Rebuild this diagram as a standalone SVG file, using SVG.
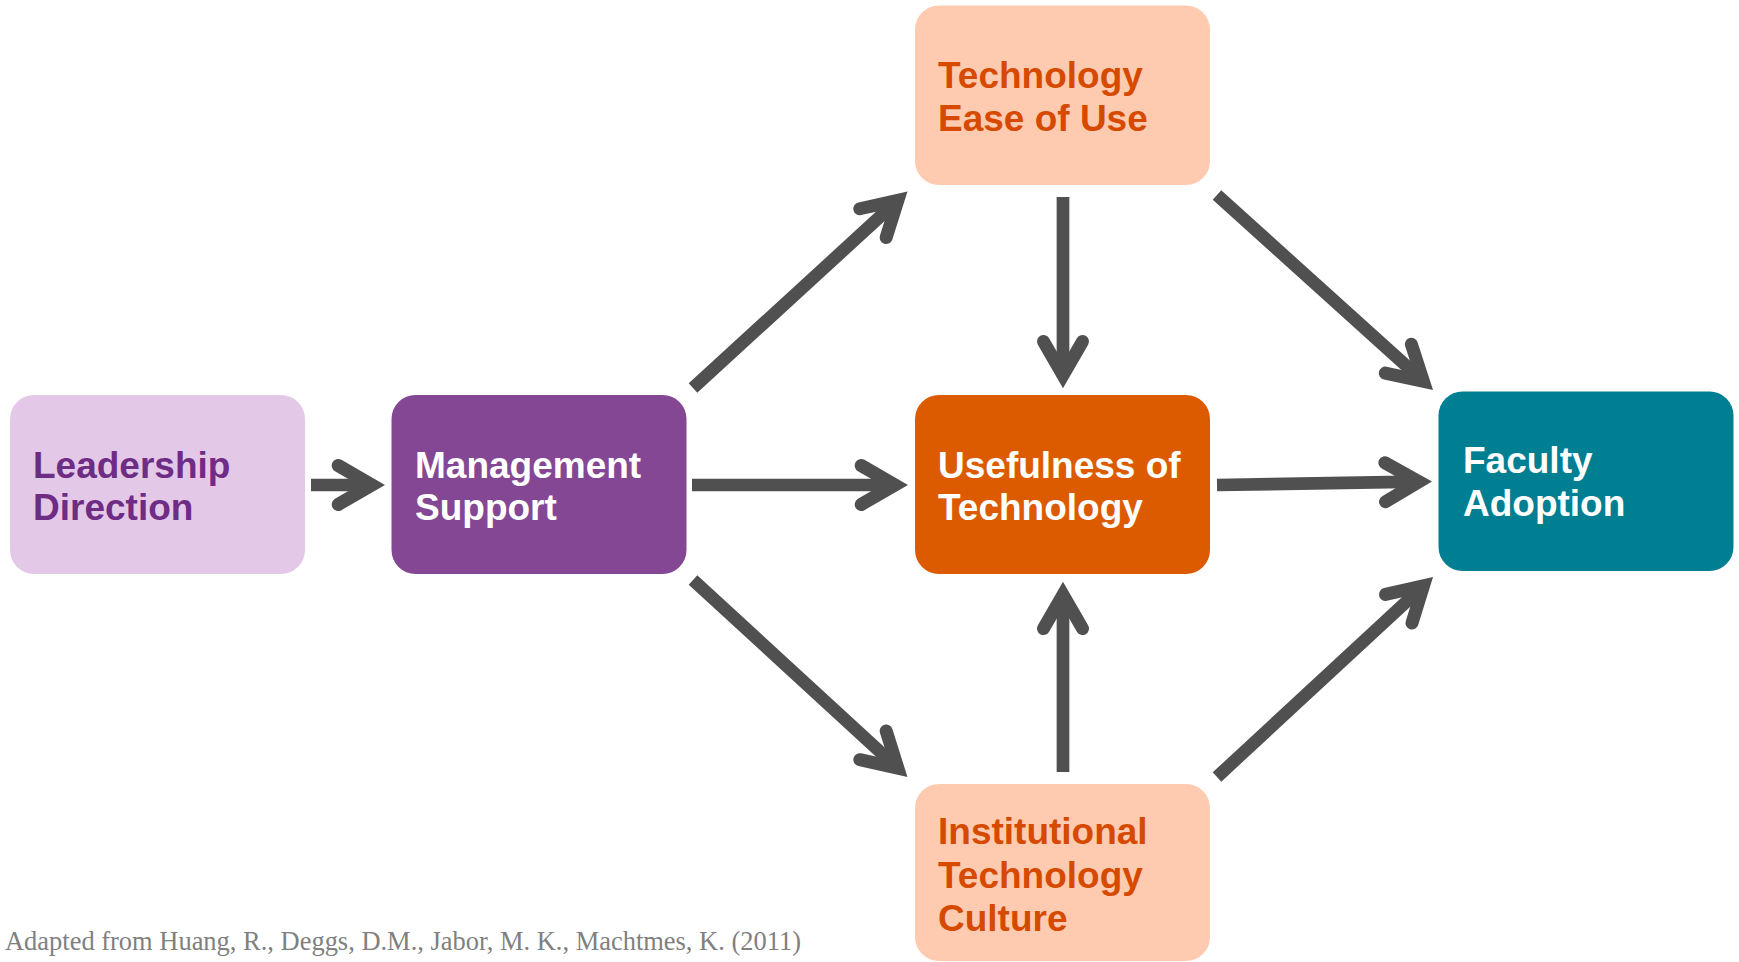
<svg xmlns="http://www.w3.org/2000/svg" width="1739" height="962" viewBox="0 0 1739 962">
<style>
.lbl{font-family:"Liberation Sans",Arial,sans-serif;font-weight:bold;font-size:37px}
.w{fill:#FFFFFF}
.o{fill:#D64A00}
.p{fill:#6E2C85}
.conn line{stroke:#505050;stroke-width:12.7;fill:none;stroke-linecap:butt}
.foot{font-family:"Liberation Serif","DejaVu Serif",serif;font-size:26.5px;fill:#808080}
</style>
<defs>
<marker id="chev" markerUnits="userSpaceOnUse" orient="auto" refX="0" refY="0" markerWidth="80" markerHeight="80" viewBox="-50 -40 80 80" overflow="visible">
<path d="M-33.8,-19.5 L0,0 L-33.8,19.5" fill="none" stroke="#505050" stroke-width="13" stroke-linecap="round" stroke-linejoin="miter" stroke-miterlimit="10"/>
</marker>
</defs>
<rect width="1739" height="962" fill="#FFFFFF"/>
<g id="connectors" class="conn">
<line x1="311" y1="485" x2="372" y2="485" marker-end="url(#chev)"/>
<line x1="692" y1="485" x2="895" y2="485" marker-end="url(#chev)"/>
<line x1="1217" y1="485" x2="1419" y2="481.7" marker-end="url(#chev)"/>
<line x1="693" y1="388" x2="897.9" y2="200.3" marker-end="url(#chev)"/>
<line x1="693" y1="580" x2="897.9" y2="768.2" marker-end="url(#chev)"/>
<line x1="1063" y1="197" x2="1063" y2="375.3" marker-end="url(#chev)"/>
<line x1="1063" y1="772" x2="1063" y2="594.7" marker-end="url(#chev)"/>
<line x1="1217" y1="195" x2="1423.4" y2="381.3" marker-end="url(#chev)"/>
<line x1="1217" y1="777" x2="1423.5" y2="585.8" marker-end="url(#chev)"/>
</g>
<g id="leadership">
<rect x="10" y="395" width="295" height="179" rx="24" fill="#E3C9E7"/>
<text class="lbl p" x="33" y="478">Leadership</text>
<text class="lbl p" x="33" y="520">Direction</text>
</g>
<g id="management">
<rect x="391.5" y="395" width="295" height="179" rx="24" fill="#844793"/>
<text class="lbl w" x="415" y="478">Management</text>
<text class="lbl w" x="415" y="520">Support</text>
</g>
<g id="usefulness">
<rect x="915" y="395" width="295" height="179" rx="24" fill="#DD5B00"/>
<text class="lbl w" x="938" y="478">Usefulness of</text>
<text class="lbl w" x="938" y="520">Technology</text>
</g>
<g id="ease">
<rect x="915" y="5.5" width="295" height="179.5" rx="24" fill="#FFCBB0"/>
<text class="lbl o" x="938" y="88">Technology</text>
<text class="lbl o" x="938" y="131">Ease of Use</text>
</g>
<g id="culture">
<rect x="915" y="784" width="295" height="177" rx="24" fill="#FFCBB0"/>
<text class="lbl o" x="938" y="844">Institutional</text>
<text class="lbl o" x="938" y="887.5">Technology</text>
<text class="lbl o" x="938" y="931">Culture</text>
</g>
<g id="faculty">
<rect x="1438.5" y="391.5" width="295" height="179.5" rx="24" fill="#007F92"/>
<text class="lbl w" x="1463" y="473">Faculty</text>
<text class="lbl w" x="1463" y="516">Adoption</text>
</g>
<text class="foot" x="5" y="950" textLength="796" lengthAdjust="spacingAndGlyphs">Adapted from Huang, R., Deggs, D.M., Jabor, M. K., Machtmes, K. (2011)</text>
</svg>
